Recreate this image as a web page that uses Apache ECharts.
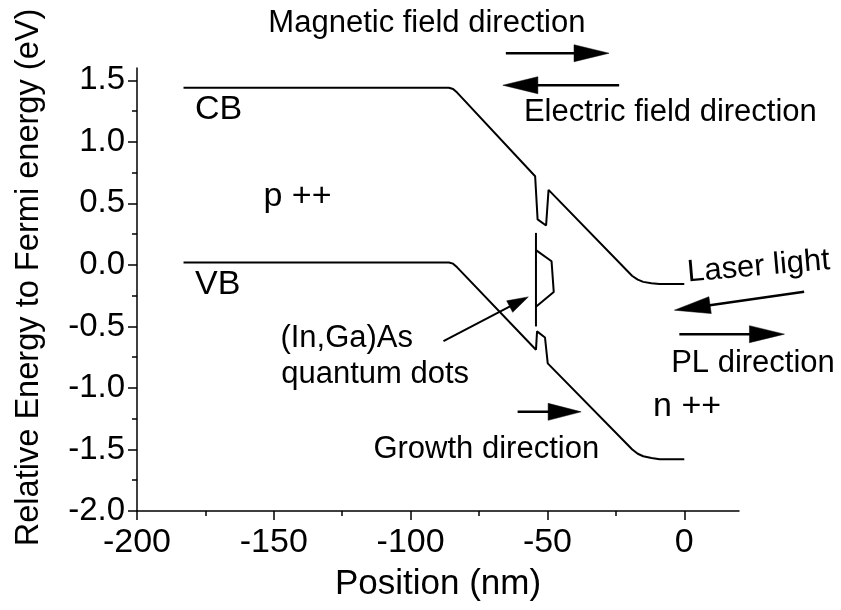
<!DOCTYPE html>
<html>
<head>
<meta charset="utf-8">
<script src="https://cdn.jsdelivr.net/npm/echarts@6/dist/echarts.min.js"></script>
<style>
  html, body { margin: 0; padding: 0; background: #fff; }
  #chart { width: 841px; height: 610px; }
</style>
</head>
<body>
<div id="chart"></div>
<script>
// Band profile of the p++ / QD / n++ structure (position in nm, energy in eV)
const cbPos    = [-183, -86, -84.5, -83, -54.5, -53.6, -50.5, -49.6, -19, -17, -15, -12, -9, 0];
const cbEnergy = [1.44, 1.44, 1.43, 1.40, 0.72, 0.37, 0.32, 0.61, -0.09, -0.12, -0.138, -0.15, -0.155, -0.155];
const vbPos    = [-183, -86, -84.5, -83, -54.2, -53.8, -50.9, -49.9, -19, -17, -15, -12, -9, 0];
const vbEnergy = [0.02, 0.02, 0.01, -0.02, -0.69, -0.54, -0.59, -0.80, -1.50, -1.535, -1.555, -1.57, -1.58, -1.58];

// Quantum dot layer: wetting line and dot level outline
const qdLinePos     = [-54.2, -54.2];
const qdLineEnergy  = [0.26, -0.50];
const qdShapePos    = [-54.2, -48.5, -47.7, -54.2];
const qdShapeEnergy = [0.12, 0.03, -0.22, -0.34];

// Axis ticks
const xTicks = [-200, -150, -100, -50, 0];
const xMinorTicks = [-175, -125, -75, -25];
const yTicks = [-2.0, -1.5, -1.0, -0.5, 0.0, 0.5, 1.0, 1.5];
const yMinorTicks = [-1.75, -1.25, -0.75, -0.25, 0.25, 0.75, 1.25];

const FONT = "'Liberation Sans', Arial, Helvetica, sans-serif";

const pairs = (xs, ys) => xs.map((x, i) => [x, ys[i]]);

const chart = echarts.init(document.getElementById('chart'), null, { renderer: 'canvas' });

const lineSeries = (name, data) => ({
  name, type: 'line', data, showSymbol: false, symbol: 'none',
  xAxisIndex: 0, yAxisIndex: 0,
  lineStyle: { color: '#000', width: 2 }, silent: true, animation: false, clip: false
});

chart.setOption({
  animation: false,
  grid: { left: 137, right: 102, top: 68, bottom: 99, containLabel: false, outerBoundsMode: 'none' },
  xAxis: [
    {
      type: 'value', min: -200, max: 20, position: 'bottom',
      name: 'Position (nm)', nameLocation: 'middle', nameGap: 56,
      nameTextStyle: { color: '#000', fontSize: 35, fontFamily: FONT },
      axisLine: { show: true, onZero: false, lineStyle: { color: '#000', width: 1.5 } },
      axisTick: { show: true, customValues: xTicks, length: 9, lineStyle: { color: '#000', width: 1.5 } },
      axisLabel: { show: true, customValues: xTicks, margin: 15, color: '#000', fontSize: 34, fontFamily: FONT,
                   formatter: v => String(Math.round(v)) },
      splitLine: { show: false }
    },
    {
      type: 'value', min: -200, max: 20, position: 'bottom',
      axisLine: { show: false, onZero: false },
      axisTick: { show: true, customValues: xMinorTicks, length: 5, lineStyle: { color: '#000', width: 1.5 } },
      axisLabel: { show: false },
      splitLine: { show: false }
    }
  ],
  yAxis: [
    {
      type: 'value', min: -2.0, max: 1.6, position: 'left',
      name: 'Relative Energy to Fermi energy (eV)', nameLocation: 'middle', nameGap: 91, nameRotate: 90,
      nameTextStyle: { color: '#000', fontSize: 32.6, fontFamily: FONT, padding: [0, 0, 0, 24] },
      axisLine: { show: true, onZero: false, lineStyle: { color: '#000', width: 1.5 } },
      axisTick: { show: true, customValues: yTicks, length: 9, lineStyle: { color: '#000', width: 1.5 } },
      axisLabel: { show: true, customValues: yTicks, margin: 12, color: '#000', fontSize: 33, fontFamily: FONT,
                   formatter: v => v.toFixed(1) },
      splitLine: { show: false }
    },
    {
      type: 'value', min: -2.0, max: 1.6, position: 'left',
      axisLine: { show: false, onZero: false },
      axisTick: { show: true, customValues: yMinorTicks, length: 5, lineStyle: { color: '#000', width: 1.5 } },
      axisLabel: { show: false },
      splitLine: { show: false }
    }
  ],
  series: [
    lineSeries('CB', pairs(cbPos, cbEnergy)),
    lineSeries('VB', pairs(vbPos, vbEnergy)),
    lineSeries('QD line', pairs(qdLinePos, qdLineEnergy)),
    lineSeries('QD level', pairs(qdShapePos, qdShapeEnergy))
  ]
});

// Annotations placed in data coordinates and converted to pixels
const toPx = (p) => chart.convertToPixel({ xAxisIndex: 0, yAxisIndex: 0 }, p);

const labels = [
  { text: 'Magnetic field direction', at: [-152.0, 1.965], size: 31 },
  { text: 'Electric field direction', at: [-58.6, 1.240], size: 31 },
  { text: 'CB', at: [-178.8, 1.258], size: 34 },
  { text: 'p ++', at: [-153.8, 0.555], size: 34 },
  { text: 'VB', at: [-178.8, -0.163], size: 34 },
  { text: '(In,Ga)As', at: [-147.6, -0.595], size: 31 },
  { text: 'quantum dots', at: [-147.3, -0.892], size: 31 },
  { text: 'Growth direction', at: [-113.6, -1.501], size: 31 },
  { text: 'Laser light', at: [1.1, -0.066], size: 31, rot: 5 },
  { text: 'PL direction', at: [-4.8, -0.799], size: 31 },
  { text: 'n ++', at: [-11.4, -1.151], size: 34 }
];

const arrows = [
  { from: [-65.2, 1.720], to: [-27.5, 1.720], head: 35, half: 8.5, w: 2.5 },
  { from: [-23.8, 1.460], to: [-66.3, 1.460], head: 35, half: 8.5, w: 2.5 },
  { from: [43.8, -0.219], to: [-3.6, -0.368], head: 36, half: 8.5, w: 2.5 },
  { from: [-1.8, -0.563], to: [36.6, -0.563], head: 35, half: 8.5, w: 2.5 },
  { from: [-60.9, -1.194], to: [-37.7, -1.194], head: 33, half: 8.5, w: 2.5 },
  { from: [-88.0, -0.62], to: [-57.0, -0.26], head: 21, half: 6.5, w: 2 }
];

const graphics = [];
labels.forEach(l => {
  const p = toPx(l.at);
  graphics.push({
    type: 'text', x: p[0], y: p[1], rotation: (l.rot || 0) * Math.PI / 180, silent: true,
    style: { text: l.text, fill: '#000', font: l.size + 'px ' + FONT, align: 'left', verticalAlign: 'middle' }
  });
});

arrows.forEach(a => {
  const t = toPx(a.from), h = toPx(a.to);
  const dx = h[0] - t[0], dy = h[1] - t[1];
  const len = Math.hypot(dx, dy), ux = dx / len, uy = dy / len;
  const bx = h[0] - ux * a.head, by = h[1] - uy * a.head;
  graphics.push({
    type: 'polyline', silent: true,
    shape: { points: [t, [bx + ux * 2, by + uy * 2]] },
    style: { stroke: '#000', lineWidth: a.w, fill: null }
  });
  graphics.push({
    type: 'polygon', silent: true,
    shape: { points: [h, [bx - uy * a.half, by + ux * a.half], [bx + uy * a.half, by - ux * a.half]] },
    style: { fill: '#000', stroke: '#000', lineWidth: 0.5 }
  });
});

chart.setOption({ graphic: graphics });
</script>
</body>
</html>
